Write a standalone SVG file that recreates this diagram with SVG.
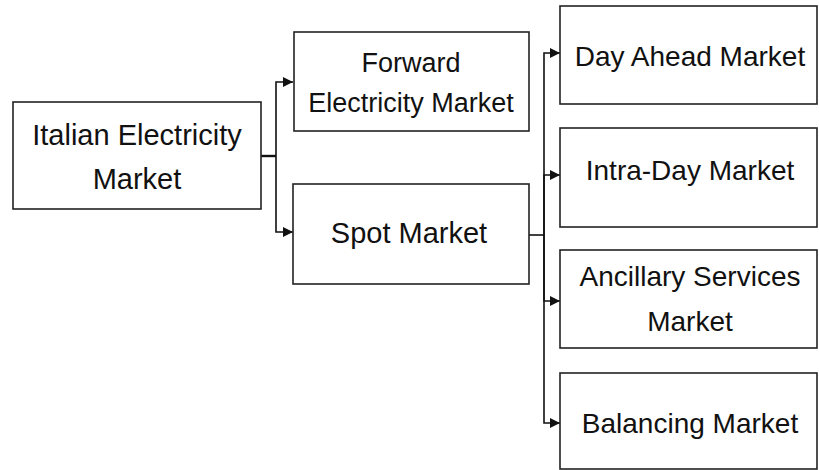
<svg xmlns="http://www.w3.org/2000/svg" width="819" height="470" viewBox="0 0 819 470">
<style>
.box{fill:#fff;stroke:#222;stroke-width:1.6}
.t{font-family:"Liberation Sans",Arial,sans-serif;font-size:28px;fill:#111;text-anchor:middle}
.c{fill:none;stroke:#111;stroke-width:1.6}
</style>
<defs>
<marker id="ah" viewBox="0 0 10 10" refX="10" refY="5" markerWidth="10" markerHeight="10" markerUnits="userSpaceOnUse" orient="auto">
<path d="M0,0 L10,5 L0,10 z" fill="#111"/>
</marker>
</defs>
<rect width="819" height="470" fill="#fff"/>
<g id="connectors">
<path class="c" d="M261,156 H276" style="stroke-width:2.4"/>
<path class="c" d="M276,156 V82 H293" marker-end="url(#ah)"/>
<path class="c" d="M276,156 V232 H293" marker-end="url(#ah)"/>
<path class="c" d="M529,235 H544"/>
<path class="c" d="M544,235 V53 H560" marker-end="url(#ah)"/>
<path class="c" d="M544,235 V175 H560" marker-end="url(#ah)"/>
<path class="c" d="M544,235 V301 H560" marker-end="url(#ah)"/>
<path class="c" d="M544,235 V423 H560" marker-end="url(#ah)"/>
</g>
<g id="italian">
<rect class="box" x="13" y="102" width="248" height="107"/>
<text class="t" x="137" y="145" style="font-size:29px">Italian Electricity</text>
<text class="t" x="137" y="189" style="font-size:29px">Market</text>
</g>
<g id="forward">
<rect class="box" x="294" y="32" width="235" height="99"/>
<text class="t" x="411" y="72" style="font-size:27px">Forward</text>
<text class="t" x="411" y="112" style="font-size:27px">Electricity Market</text>
</g>
<g id="spot">
<rect class="box" x="293" y="184" width="236" height="100"/>
<text class="t" x="409" y="243" style="font-size:29px">Spot Market</text>
</g>
<g id="dayahead">
<rect class="box" x="560" y="6" width="257" height="98"/>
<text class="t" x="690" y="66">Day Ahead Market</text>
</g>
<g id="intraday">
<rect class="box" x="560" y="128" width="257" height="99"/>
<text class="t" x="690" y="180">Intra-Day Market</text>
</g>
<g id="ancillary">
<rect class="box" x="560" y="250" width="257" height="98"/>
<text class="t" x="690" y="286">Ancillary Services</text>
<text class="t" x="690" y="331">Market</text>
</g>
<g id="balancing">
<rect class="box" x="560" y="373" width="257" height="96"/>
<text class="t" x="690" y="433">Balancing Market</text>
</g>
</svg>
